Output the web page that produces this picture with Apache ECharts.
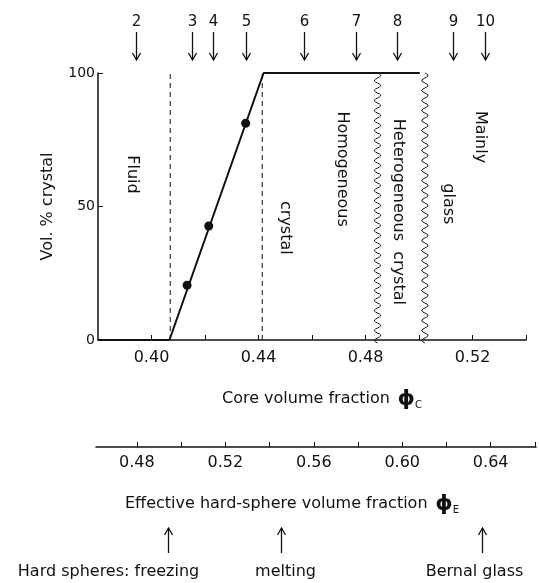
<!DOCTYPE html>
<html>
<head>
  <meta charset="UTF-8">
  <title>Vol. % crystal vs core volume fraction</title>
  <script src="https://cdn.jsdelivr.net/npm/echarts@6/dist/echarts.min.js"></script>
  <style>
    html, body { margin: 0; padding: 0; background: #fff; }
    #main { width: 539px; height: 583px; }
  </style>
</head>
<body>
  <div id="main"></div>

  <script>
    // crystallinity curve (phi_c, vol % crystal)
    var curve = [[0.38, 0], [0.4067, 0], [0.4419, 100], [0.5003, 100]];
    var samplePoints = [[0.4133, 20.5], [0.4214, 42.7], [0.4352, 81.2]];
    // phase boundaries
    var dashedBounds = [0.407, 0.4414];
    var wavyBounds = [0.4845, 0.5022];
    // sample markers along the top
    var sampleNums = ['2', '3', '4', '5', '6', '7', '8', '9', '10'];
    var sampleX = [0.3943, 0.4152, 0.4229, 0.4354, 0.4570, 0.4764, 0.4918, 0.5128, 0.5247];
    // hard-sphere reference points on the effective scale
    var hsNames = ['Hard spheres: freezing', 'melting', 'Bernal glass'];
    var hsX = [0.494, 0.545, 0.636];
    // region labels (phi_c, vol %)
    var regionLabels = [
      ['Fluid', 0.3929, 62],
      ['crystal', 0.4498, 42],
      ['Homogeneous', 0.4711, 64],
      ['Heterogeneous  crystal', 0.4921, 48],
      ['Mainly', 0.5228, 76],
      ['glass', 0.5108, 51]
    ];
    var coreTicks = [0.40, 0.42, 0.44, 0.46, 0.48, 0.50, 0.52, 0.54];
    var coreLabels = [0.40, 0.44, 0.48, 0.52];
    var effTicks = [0.48, 0.50, 0.52, 0.54, 0.56, 0.58, 0.60, 0.62, 0.64, 0.66];
    var effLabels = [0.48, 0.52, 0.56, 0.60, 0.64];

    var ink = '#111111';
    var font = 'DejaVu Sans';

    var chart = echarts.init(document.getElementById('main'));

    function arrowRender(dir, texts, shifts, gap) {
      return function (params, api) {
        var x = api.value(0);
        var top = api.coord([x, 1]);
        var bot = api.coord([x, 0]);
        var px = Math.round(top[0]) + 0.5;
        var tip = dir === 'down' ? bot[1] : top[1];
        var s = dir === 'down' ? -1 : 1;
        var tx = px + (shifts ? shifts[params.dataIndex] : 0);
        var ty = dir === 'down' ? top[1] - gap : bot[1] + gap;
        return {
          type: 'group',
          children: [
            { type: 'line', shape: { x1: px, y1: top[1], x2: px, y2: bot[1] },
              style: { stroke: ink, lineWidth: 1.3 } },
            { type: 'polyline', shape: { points: [[px - 4, tip + s * 7], [px, tip], [px + 4, tip + s * 7]] },
              style: { stroke: ink, lineWidth: 1.3, fill: null } },
            { type: 'text', style: { text: texts[params.dataIndex], x: tx, y: ty,
              align: 'center', verticalAlign: 'middle', fill: ink,
              fontSize: dir === 'down' ? 15 : 16, fontFamily: font } }
          ]
        };
      };
    }

    function wavyRender(params, api) {
      var x = api.value(0);
      var t = api.coord([x, 100]);
      var b = api.coord([x, 0]);
      var pts = [];
      for (var y = t[1]; y <= b[1] + 3; y += 1) {
        pts.push([t[0] + 3.2 * Math.sin((y - t[1]) / 10 * 2 * Math.PI), y]);
      }
      return { type: 'polyline', shape: { points: pts }, style: { stroke: ink, lineWidth: 1, fill: null } };
    }

    var option = {
      backgroundColor: '#fff',
      animation: false,
      textStyle: { fontFamily: font, color: ink },
      grid: [
        { left: 98, top: 73, width: 428, height: 267 },
        { left: 96, top: 437, width: 440, height: 10 },
        { left: 96, top: 528, width: 440, height: 25 },
        { left: 98, top: 32, width: 428, height: 28 }
      ],
      xAxis: [
        {
          gridIndex: 0, type: 'value', min: 0.38, max: 0.54,
          name: '{t|Core volume fraction}  {p|ϕ}{s|C}',
          nameLocation: 'middle', nameGap: 48,
          nameTextStyle: {
            padding: [0, 0, 0, 20],
            rich: {
              t: { fontSize: 16, fontFamily: font, color: ink },
              p: { fontSize: 22, fontWeight: 'bold', fontFamily: font, color: ink },
              s: { fontSize: 10, fontFamily: font, color: ink, verticalAlign: 'bottom', padding: [8, 0, 0, 0] }
            }
          },
          axisLine: { lineStyle: { color: ink, width: 1.5 } },
          axisTick: { inside: true, length: 5, customValues: coreTicks, lineStyle: { color: ink } },
          axisLabel: { customValues: coreLabels, margin: 10, fontSize: 16, color: ink,
            formatter: function (v) { return v.toFixed(2); } },
          splitLine: { show: false }
        },
        {
          gridIndex: 1, type: 'value', min: 0.4615, max: 0.6605,
          name: '{t|Effective hard-sphere volume fraction}  {p|ϕ}{s|E}',
          nameLocation: 'middle', nameGap: 46,
          nameTextStyle: {
            padding: [0, 48, 0, 0],
            rich: {
              t: { fontSize: 16, fontFamily: font, color: ink },
              p: { fontSize: 22, fontWeight: 'bold', fontFamily: font, color: ink },
              s: { fontSize: 10, fontFamily: font, color: ink, verticalAlign: 'bottom', padding: [8, 0, 0, 0] }
            }
          },
          axisLine: { onZero: false, lineStyle: { color: ink, width: 1.5 } },
          axisTick: { inside: true, length: 5, customValues: effTicks, lineStyle: { color: ink } },
          axisLabel: { customValues: effLabels, margin: 8, fontSize: 16, color: ink,
            formatter: function (v) { return v.toFixed(2); } },
          splitLine: { show: false }
        },
        { gridIndex: 2, type: 'value', min: 0.4615, max: 0.6605, show: false },
        { gridIndex: 3, type: 'value', min: 0.38, max: 0.54, show: false }
      ],
      yAxis: [
        {
          gridIndex: 0, type: 'value', min: 0, max: 100, interval: 50,
          name: 'Vol. % crystal', nameLocation: 'middle', nameGap: 42,
          nameTextStyle: { fontSize: 16, color: ink, fontFamily: font },
          axisLine: { show: true, lineStyle: { color: ink, width: 1.5 } },
          axisTick: { show: true, inside: true, length: 5, lineStyle: { color: ink } },
          axisLabel: { margin: 3, fontSize: 14, color: ink },
          splitLine: { show: false }
        },
        { gridIndex: 1, type: 'value', min: 0, max: 1, show: false },
        { gridIndex: 2, type: 'value', min: 0, max: 1, show: false },
        { gridIndex: 3, type: 'value', min: 0, max: 1, show: false }
      ],
      series: [
        {
          type: 'line', xAxisIndex: 0, yAxisIndex: 0, data: curve,
          symbol: 'none', lineStyle: { color: ink, width: 2 }, z: 5
        },
        {
          type: 'scatter', xAxisIndex: 0, yAxisIndex: 0, data: samplePoints,
          symbol: 'circle', symbolSize: 9, itemStyle: { color: ink, opacity: 1 }, z: 6
        }
      ].concat(dashedBounds.map(function (x) {
        return {
          type: 'line', xAxisIndex: 0, yAxisIndex: 0, data: [[x, 0], [x, 100]],
          symbol: 'none', lineStyle: { color: ink, width: 1, type: [5, 4] }
        };
      })).concat([
        {
          type: 'custom', xAxisIndex: 0, yAxisIndex: 0,
          data: wavyBounds.map(function (x) { return [x, 0]; }),
          renderItem: wavyRender
        },
        {
          type: 'scatter', xAxisIndex: 0, yAxisIndex: 0, symbolSize: 1,
          itemStyle: { color: '#fff', opacity: 1 },
          data: regionLabels.map(function (r) { return { name: r[0], value: [r[1], r[2]] }; }),
          label: { show: true, position: 'inside', rotate: -90, formatter: '{b}',
            fontSize: 16, color: ink, opacity: 1, fontFamily: font }
        },
        {
          type: 'custom', xAxisIndex: 3, yAxisIndex: 3,
          data: sampleX.map(function (x) { return [x, 0]; }),
          renderItem: arrowRender('down', sampleNums, null, 10)
        },
        {
          type: 'custom', xAxisIndex: 2, yAxisIndex: 2,
          data: hsX.map(function (x) { return [x, 0]; }),
          renderItem: arrowRender('up', hsNames, [-60, 4, -8], 19)
        }
      ])
    };

    chart.setOption(option);
  </script>
</body>
</html>
